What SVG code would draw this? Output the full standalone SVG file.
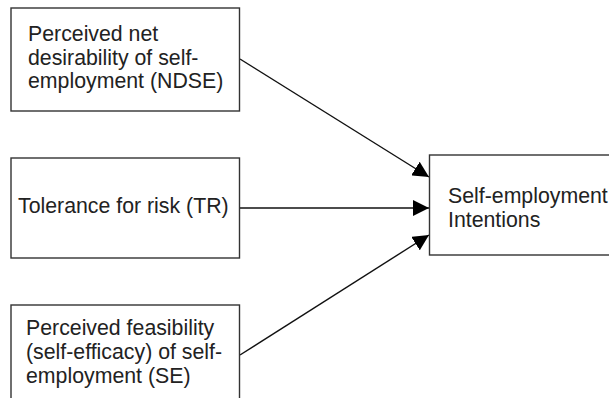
<svg xmlns="http://www.w3.org/2000/svg" width="609" height="398" viewBox="0 0 609 398">
<defs>
<style>
.box{fill:#fff;stroke:#333;stroke-width:1.4}
.t{font-family:"Liberation Sans",Arial,sans-serif;font-size:21.3px;fill:#222}
.c{stroke:#111;stroke-width:1.4;fill:none}
</style>
<marker id="ah" viewBox="0 0 16 16" refX="16" refY="8" markerWidth="16" markerHeight="16" markerUnits="userSpaceOnUse" orient="auto">
<path d="M0,0 L16,8 L0,16 Z" fill="#000"/>
</marker>
</defs>
<rect width="609" height="398" fill="#fff"/>
<g id="connectors">
<line class="c" x1="240" y1="59" x2="429" y2="177" marker-end="url(#ah)"/>
<line class="c" x1="240" y1="208" x2="429" y2="208" marker-end="url(#ah)"/>
<line class="c" x1="240" y1="355" x2="429" y2="235" marker-end="url(#ah)"/>
</g>
<g id="ndse">
<rect class="box" x="11" y="8" width="228.5" height="103"/>
<text class="t" x="28" y="41">Perceived net</text>
<text class="t" x="28" y="64.5">desirability of self-</text>
<text class="t" x="28" y="88">employment (NDSE)</text>
</g>
<g id="tr">
<rect class="box" x="11" y="158" width="228.5" height="100"/>
<text class="t" x="18" y="213">Tolerance for risk (TR)</text>
</g>
<g id="se">
<rect class="box" x="11" y="305" width="228.5" height="110"/>
<text class="t" x="26" y="335">Perceived feasibility</text>
<text class="t" x="26" y="359">(self-efficacy) of self-</text>
<text class="t" x="26" y="383">employment (SE)</text>
</g>
<g id="intentions">
<rect class="box" x="429.5" y="155" width="200" height="100"/>
<text class="t" x="448" y="203">Self-employment</text>
<text class="t" x="448" y="227">Intentions</text>
</g>
</svg>
